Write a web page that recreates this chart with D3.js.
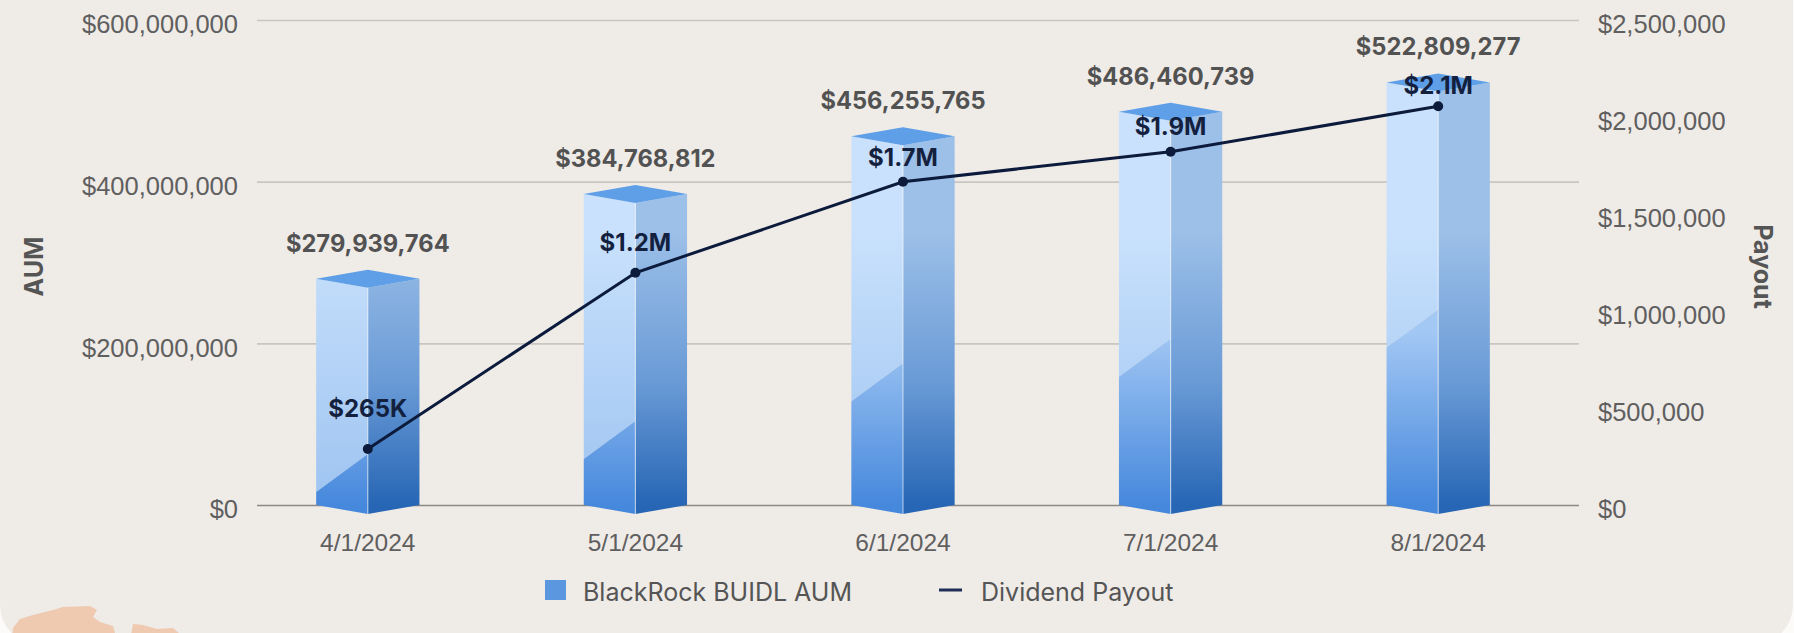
<!DOCTYPE html>
<html>
<head>
<meta charset="utf-8">
<script src="https://cdn.jsdelivr.net/npm/d3@7"></script>
<style>
  html, body { margin: 0; padding: 0; background: #fcfbfa; }
  svg { display: block; font-family: Inter, "Noto Sans", sans-serif; }
</style>
</head>
<body>
<svg width="1794" height="633"></svg>
<script>
const dates = ['4/1/2024', '5/1/2024', '6/1/2024', '7/1/2024', '8/1/2024'];
const aumValues = [279939764, 384768812, 456255765, 486460739, 522809277];
const payoutValues = [289000, 1197000, 1666000, 1821000, 2055000];
const payoutLabels = ['$265K', '$1.2M', '$1.7M', '$1.9M', '$2.1M'];
const aumTicks = [0, 200000000, 400000000, 600000000];
const payoutTicks = [0, 500000, 1000000, 1500000, 2000000, 2500000];
const seriesNames = ['BlackRock BUIDL AUM', 'Dividend Payout'];
const axisTitles = ['AUM', 'Payout'];

const plot = {left: 257, right: 1579, top: 20, bottom: 505};
const navy = '#0c1a3b';
const money = d3.format('$,');

const svg = d3.select('svg');

// card background with rounded bottom corners
svg.append('rect')
  .attr('x', 0).attr('y', -60).attr('width', 1793).attr('height', 705)
  .attr('rx', 40).attr('fill', '#efebe7');

const x = d3.scaleBand().domain(dates).range([234, 1572]);
const yL = d3.scaleLinear().domain([0, 600000000]).range([plot.bottom, plot.top]);
const yR = d3.scaleLinear().domain([0, 2500000]).range([plot.bottom, plot.top]);

// gradients
const defs = svg.append('defs');
function grad(id, y1, y2, stops) {
  const g = defs.append('linearGradient').attr('id', id)
    .attr('gradientUnits', 'userSpaceOnUse')
    .attr('x1', 0).attr('x2', 0).attr('y1', y1).attr('y2', y2);
  stops.forEach(s => g.append('stop').attr('offset', s[0]).attr('stop-color', s[1]));
}
grad('leftUpper', 230, 505, [[0, '#c9e1fc'], [1, '#9ec4f1']]);
grad('leftLower', 330, 505, [[0, '#a3c8f4'], [1, '#4688dc']]);
grad('rightFace', 230, 505, [[0, '#9dc0e8'], [0.55, '#6a9bd6'], [1, '#2766b5']]);

// left axis with gridlines
const gl = svg.append('g')
  .attr('transform', `translate(${plot.left},0)`)
  .call(d3.axisLeft(yL).tickValues(aumTicks).tickFormat(money)
    .tickSize(-(plot.right - plot.left)).tickPadding(19));
gl.select('.domain').remove();
gl.selectAll('.tick line')
  .attr('stroke', d => d === 0 ? '#8d8985' : '#c9c5c1')
  .attr('stroke-width', 1.6);
gl.selectAll('.tick text')
  .attr('fill', '#5f5f5f').attr('font-size', 25.5).attr('dy', '0.5em');

// right axis
const gr = svg.append('g')
  .attr('transform', `translate(${plot.right},0)`)
  .call(d3.axisRight(yR).tickValues(payoutTicks).tickFormat(money)
    .tickSize(0).tickPadding(19));
gr.select('.domain').remove();
gr.selectAll('.tick text')
  .attr('fill', '#5f5f5f').attr('font-size', 25.5).attr('dy', '0.5em');

// x axis labels
const gx = svg.append('g')
  .attr('transform', `translate(0,${plot.bottom})`)
  .call(d3.axisBottom(x).tickSize(0).tickPadding(29));
gx.select('.domain').remove();
gx.selectAll('.tick text')
  .attr('fill', '#5f5f5f').attr('font-size', 24.5);

// axis titles
svg.append('text')
  .attr('transform', `translate(34,${(plot.top + plot.bottom) / 2 + 4}) rotate(-90)`)
  .attr('text-anchor', 'middle').attr('dominant-baseline', 'central')
  .attr('font-weight', 700).attr('font-size', 25).attr('fill', '#555')
  .text(axisTitles[0]);
svg.append('text')
  .attr('transform', `translate(1763,${(plot.top + plot.bottom) / 2 + 4}) rotate(90)`)
  .attr('text-anchor', 'middle').attr('dominant-baseline', 'central')
  .attr('font-weight', 700).attr('font-size', 25).attr('fill', '#555')
  .text(axisTitles[1]);

// 3D prism bars
const depth = 9;
const bars = dates.map((d, i) => {
  const cx = x(d) + x.bandwidth() / 2;
  const hw = x.bandwidth() * 0.193;
  const yt = yL(aumValues[i]);
  const yb = yL(0);
  const diagL = Math.min(yt + 265, yb - 13);
  const diagC = diagL - 38;
  return {cx, hw, yt, yb, diagL, diagC, value: aumValues[i]};
});

const barG = svg.append('g').selectAll('g').data(bars).enter().append('g');

barG.append('path')
  .attr('fill', 'url(#leftUpper)')
  .attr('d', b => `M${b.cx - b.hw},${b.yt}L${b.cx},${b.yt + depth}L${b.cx},${b.diagC}L${b.cx - b.hw},${b.diagL}Z`);
barG.append('path')
  .attr('fill', 'url(#leftLower)')
  .attr('d', b => `M${b.cx - b.hw},${b.diagL}L${b.cx},${b.diagC}L${b.cx},${b.yb + depth}L${b.cx - b.hw},${b.yb}Z`);
barG.append('path')
  .attr('fill', 'url(#rightFace)')
  .attr('d', b => `M${b.cx},${b.yt + depth}L${b.cx + b.hw},${b.yt}L${b.cx + b.hw},${b.yb}L${b.cx},${b.yb + depth}Z`);
barG.append('path')
  .attr('fill', '#5e9fe8')
  .attr('d', b => `M${b.cx - b.hw},${b.yt}L${b.cx},${b.yt - depth}L${b.cx + b.hw},${b.yt}L${b.cx},${b.yt + depth}Z`);
barG.append('line')
  .attr('x1', b => b.cx).attr('x2', b => b.cx)
  .attr('y1', b => b.yt + depth).attr('y2', b => b.yb + depth)
  .attr('stroke', 'rgba(255,255,255,0.55)').attr('stroke-width', 1.2);

// AUM value labels
svg.append('g').selectAll('text').data(bars).enter().append('text')
  .attr('x', b => b.cx).attr('y', b => b.yt - 27)
  .attr('text-anchor', 'middle').attr('font-weight', 700).attr('font-size', 23.7)
  .attr('fill', '#525252')
  .text(b => money(b.value));

// payout line
const pts = dates.map((d, i) => [x(d) + x.bandwidth() / 2, yR(payoutValues[i])]);
svg.append('path')
  .attr('d', d3.line()(pts))
  .attr('fill', 'none').attr('stroke', navy).attr('stroke-width', 3);
svg.append('g').selectAll('circle').data(pts).enter().append('circle')
  .attr('cx', p => p[0]).attr('cy', p => p[1]).attr('r', 5).attr('fill', navy);

// payout labels lift more where the outgoing segment is steep
svg.append('g').selectAll('text').data(pts).enter().append('text')
  .attr('x', p => p[0])
  .attr('y', (p, i) => {
    const next = pts[i + 1];
    const slope = next ? Math.abs(next[1] - p[1]) / (next[0] - p[0]) : 0;
    return p[1] - 12 - 30 * slope;
  })
  .attr('text-anchor', 'middle').attr('font-weight', 700).attr('font-size', 24)
  .attr('fill', '#13213f')
  .text((p, i) => payoutLabels[i]);

// legend
const lg = svg.append('g');
lg.append('rect').attr('x', 545).attr('y', 580).attr('width', 21).attr('height', 20).attr('fill', '#5a97de');
lg.append('text').attr('x', 583).attr('y', 601).attr('font-size', 25).attr('fill', '#555').text(seriesNames[0]);
lg.append('line').attr('x1', 939).attr('x2', 962).attr('y1', 590).attr('y2', 590)
  .attr('stroke', '#1f2e56').attr('stroke-width', 3);
lg.append('text').attr('x', 981).attr('y', 601).attr('font-size', 25).attr('fill', '#555').text(seriesNames[1]);

// decorative blob at bottom-left
svg.append('path')
  .attr('fill', '#efc9b0')
  .attr('d', 'M12,640L13,628L20,619L33,615L53,610L63,607L90,606L97,610L93,617L100,622L113,626L117,640Z' +
             'M130,640L133,624L143,625L157,629L173,628L187,640Z');
</script>
</body>
</html>
